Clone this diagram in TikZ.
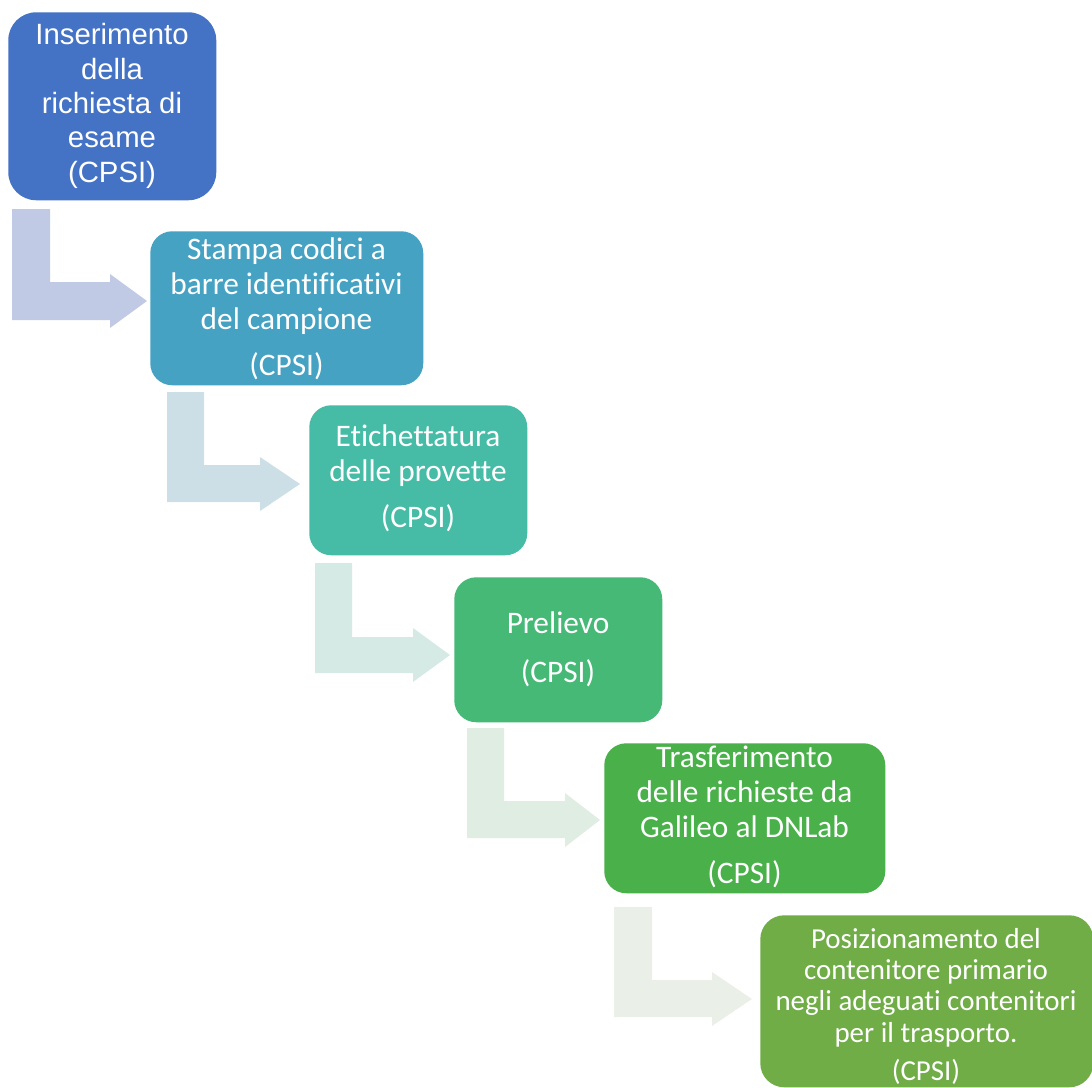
\documentclass[tikz,border=0pt]{standalone}
\usepackage{fontspec}
\setmainfont{Carlito}[Ligatures={NoCommon,NoRare,NoDiscretionary}]
\newfontfamily\arialfont{Liberation Sans}
\definecolor{cA}{HTML}{4472C4}
\definecolor{cB}{HTML}{45A2C2}
\definecolor{cC}{HTML}{46BCA6}
\definecolor{cD}{HTML}{47B977}
\definecolor{cE}{HTML}{49B04A}
\definecolor{cF}{HTML}{70AD47}
\definecolor{aA}{HTML}{C1CAE5}
\definecolor{aB}{HTML}{CCDFE6}
\definecolor{aC}{HTML}{D5EAE4}
\definecolor{aD}{HTML}{DFEDE3}
\definecolor{aE}{HTML}{EAF0E7}
\tikzset{
  box/.style={rectangle, draw=none, inner sep=0pt, anchor=north west, rounded corners=16.5pt},
  lbl/.style={text=white, align=center, inner sep=0pt, anchor=base, font=\fontsize{23.5}{26.25}\selectfont},
}
\begin{document}
\begin{tikzpicture}[x=0.75pt,y=-0.75pt]
\useasboundingbox (0,0) rectangle (1092,1088);
\clip (0,0) rectangle (1092,1088);
% bent arrows
\fill[aA] (12,209) -- (12,320) -- (110,320) -- (110,328) -- (147,301) -- (110,274) -- (110,282) -- (50,282) -- (50,209) -- cycle;
\fill[aB] (167,392) -- (167,502) -- (260,502) -- (260,511) -- (300,484) -- (260,457) -- (260,465) -- (204,465) -- (204,392) -- cycle;
\fill[aC] (315,563) -- (315,673) -- (413,673) -- (413,682) -- (450,655) -- (413,628) -- (413,637) -- (352,637) -- (352,563) -- cycle;
\fill[aD] (467,728) -- (467,838) -- (565,838) -- (565,847) -- (600,820) -- (565,793) -- (565,801) -- (504,801) -- (504,728) -- cycle;
\fill[aE] (614,907) -- (614,1017) -- (712,1017) -- (712,1026) -- (752,999) -- (712,972) -- (712,980) -- (652,980) -- (652,907) -- cycle;
% boxes
\node[box, fill=cA, rounded corners=21pt, minimum width=156pt, minimum height=141pt] (b1) at (8,12) {};
\node[box, fill=cB, minimum width=204.75pt, minimum height=115.5pt] (b2) at (150,231) {};
\node[box, fill=cC, minimum width=163.5pt, minimum height=112.5pt] (b3) at (309,405) {};
\node[box, fill=cD, minimum width=156pt, minimum height=108.75pt] (b4) at (454,577) {};
\node[box, fill=cE, minimum width=210.75pt, minimum height=112.5pt] (b5) at (604,743) {};
\node[box, fill=cF, rounded corners=18pt, minimum width=249.75pt, minimum height=129pt] (b6) at (760,915) {};
% labels (anchored at the baseline of their last line)
\node[lbl, font=\arialfont\fontsize{22}{25.7}\selectfont] (t1) at (112,182) {Inserimento\\della\\richiesta di\\esame\\(CPSI)};
\node[lbl] (t2) at (286.5,375) {Stampa codici a\\barre identificativi\\del campione\\[8.25pt](CPSI)};
\node[lbl] (t3) at (418,527) {Etichettatura\\delle provette\\[8.25pt](CPSI)};
\node[lbl] (t4) at (558,682) {Prelievo\\[10.5pt](CPSI)};
\node[lbl] (t5) at (744.5,883) {Trasferimento\\delle richieste da\\Galileo al DNLab\\[8.25pt](CPSI)};
\node[lbl, font=\fontsize{21.7}{23.5}\selectfont] (t6) at (926,1080) {Posizionamento del\\contenitore primario\\negli adeguati contenitori\\per il trasporto.\\[5pt](CPSI)};
\end{tikzpicture}
\end{document}
